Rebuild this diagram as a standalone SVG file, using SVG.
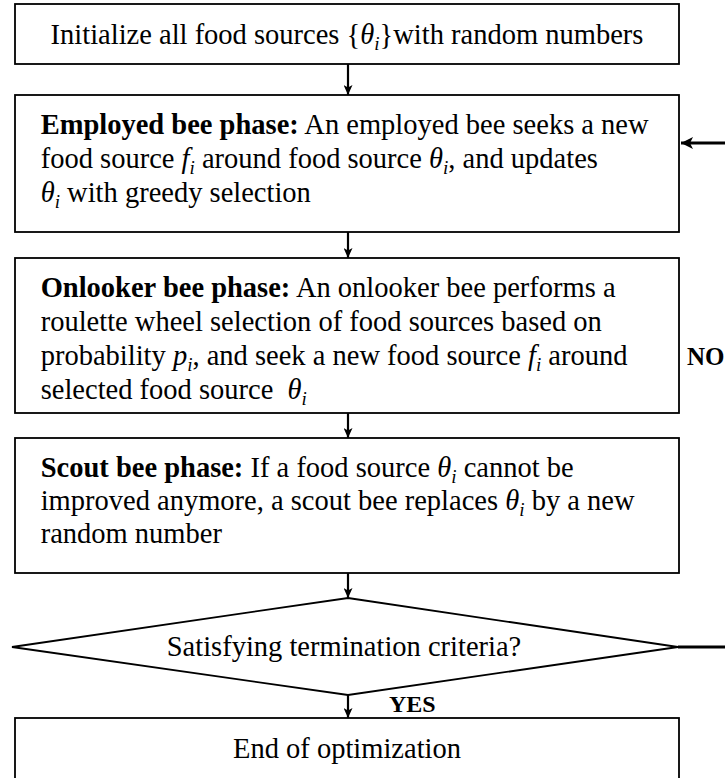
<svg xmlns="http://www.w3.org/2000/svg" width="725" height="778" viewBox="0 0 725 778">
<style>
.box{fill:#fff;stroke:#000;stroke-width:1.8}
.t{font-family:"Liberation Serif","Times New Roman",serif;font-size:28.5px;fill:#000}
.b{font-weight:bold}
.m{font-style:italic}
.s{font-style:italic;font-size:19px}
.lbl{font-family:"Liberation Serif","Times New Roman",serif;font-weight:bold;fill:#000}
.con{fill:none;stroke:#000;stroke-width:2.2}
.ret{fill:none;stroke:#000;stroke-width:3}
</style>
<defs>
<marker id="ah" viewBox="0 0 10 9" refX="10" refY="4.5" markerWidth="10" markerHeight="9" markerUnits="userSpaceOnUse" orient="auto">
<path d="M0,0 L10,4.5 L0,9 L2.5,4.5 Z" fill="#000"/>
</marker>
<marker id="ah2" viewBox="0 0 12 12" refX="12" refY="6" markerWidth="12" markerHeight="12" markerUnits="userSpaceOnUse" orient="auto">
<path d="M0,0 L12,6 L0,12 L3,6 Z" fill="#000"/>
</marker>
</defs>
<rect width="725" height="778" fill="#fff"/>

<g id="connectors">
<line class="con" x1="348" y1="64" x2="348" y2="95" marker-end="url(#ah)"/>
<line class="con" x1="348" y1="232" x2="348" y2="258" marker-end="url(#ah)"/>
<line class="con" x1="348" y1="413" x2="348" y2="438" marker-end="url(#ah)"/>
<line class="con" x1="348" y1="573" x2="348" y2="598" marker-end="url(#ah)"/>
<line class="con" x1="348" y1="695" x2="348" y2="718" marker-end="url(#ah)"/>
<path class="ret" d="M678,647 H750 V143 H681" marker-end="url(#ah2)"/>
<text class="lbl" x="687" y="365" font-size="25">NO</text>
<text class="lbl" x="389" y="712" font-size="24">YES</text>
</g>

<g id="init">
<rect class="box" x="15" y="4" width="664" height="60"/>
<text class="t" x="347" y="44" text-anchor="middle">Initialize all food sources {<tspan class="m">θ</tspan><tspan class="s" dy="6">i</tspan><tspan dy="-6">}with random numbers</tspan></text>
</g>

<g id="employed">
<rect class="box" x="15" y="95" width="664" height="137"/>
<text class="t" x="40.7" y="134"><tspan class="b">Employed bee phase:</tspan> An employed bee seeks a new</text>
<text class="t" x="40.7" y="168">food source <tspan class="m">f</tspan><tspan class="s" dy="6">i</tspan><tspan dy="-6"> around food source </tspan><tspan class="m">θ</tspan><tspan class="s" dy="6">i</tspan><tspan dy="-6">, and updates</tspan></text>
<text class="t" x="40.7" y="202"><tspan class="m">θ</tspan><tspan class="s" dy="6">i</tspan><tspan dy="-6"> with greedy selection</tspan></text>
</g>

<g id="onlooker">
<rect class="box" x="15" y="258" width="664" height="155"/>
<text class="t" x="40.7" y="297"><tspan class="b">Onlooker bee phase:</tspan> An onlooker bee performs a</text>
<text class="t" x="40.7" y="331">roulette wheel selection of food sources based on</text>
<text class="t" x="40.7" y="365">probability <tspan class="m">p</tspan><tspan class="s" dy="6">i</tspan><tspan dy="-6">, and seek a new food source </tspan><tspan class="m">f</tspan><tspan class="s" dy="6">i</tspan><tspan dy="-6"> around</tspan></text>
<text class="t" x="40.7" y="399">selected food source <tspan class="m" dx="7">θ</tspan><tspan class="s" dy="6">i</tspan></text>
</g>

<g id="scout">
<rect class="box" x="15" y="438" width="664" height="135"/>
<text class="t" x="40.7" y="477"><tspan class="b">Scout bee phase:</tspan> If a food source <tspan class="m">θ</tspan><tspan class="s" dy="6">i</tspan><tspan dy="-6"> cannot be</tspan></text>
<text class="t" x="40.7" y="510">improved anymore, a scout bee replaces <tspan class="m">θ</tspan><tspan class="s" dy="6">i</tspan><tspan dy="-6"> by a new</tspan></text>
<text class="t" x="40.7" y="543">random number</text>
</g>

<g id="decision">
<polygon class="box" points="348,598 678,647 348,695 12,647"/>
<text class="t" x="344" y="656" text-anchor="middle">Satisfying termination criteria?</text>
</g>

<g id="end">
<rect class="box" x="15" y="718" width="664" height="80"/>
<text class="t" x="347" y="758" text-anchor="middle">End of optimization</text>
</g>
</svg>
